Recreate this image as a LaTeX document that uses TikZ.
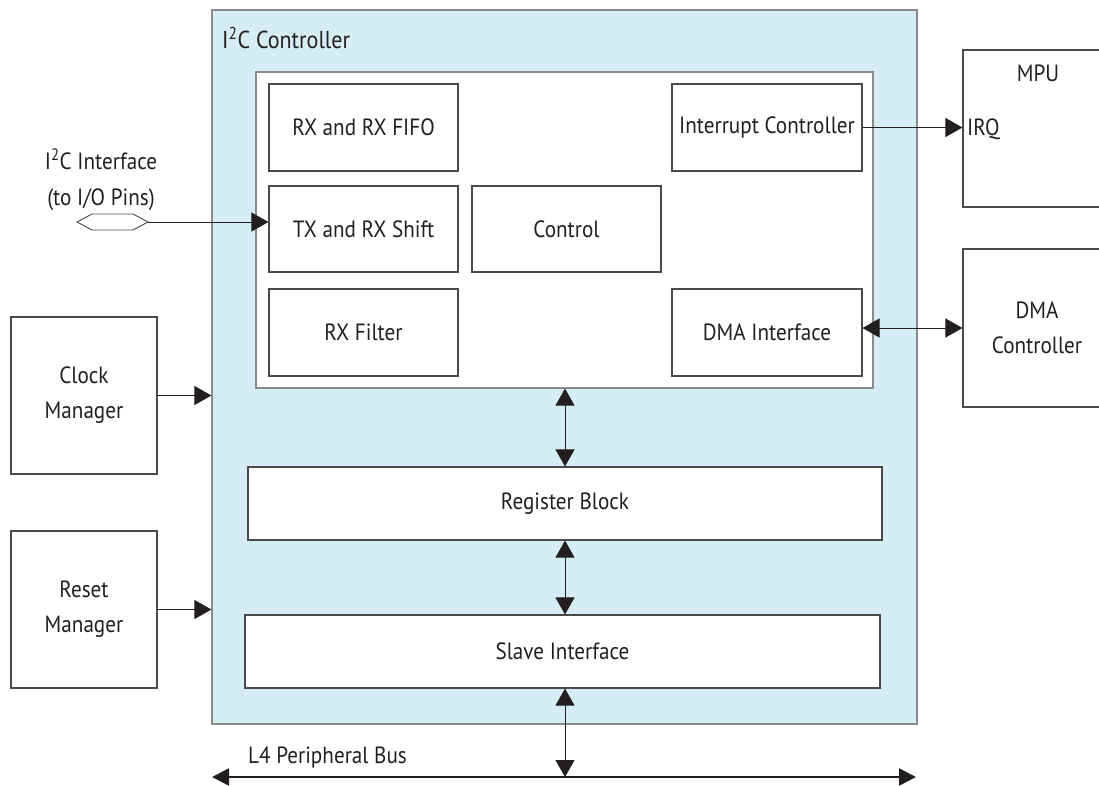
\documentclass[tikz,border=0pt]{standalone}
\usepackage{fontspec}
\setmainfont[FakeStretch=0.9]{PT Sans}
\usetikzlibrary{arrows.meta}
\definecolor{ctrlfill}{HTML}{D6EDF5}
\definecolor{ctrlline}{HTML}{8A8A8A}
\definecolor{boxline}{HTML}{4A4A4A}
\definecolor{arrcol}{HTML}{231F20}
\tikzset{
  box/.style={draw=boxline, line width=1.1pt, fill=white, inner sep=2pt, align=center,
    text=arrcol, font=\fontsize{23.5}{35}\selectfont},
  lbl/.style={inner sep=0pt, text=arrcol, font=\fontsize{23.5}{36}\selectfont},
  arr/.style={draw=arrcol, line width=0.9pt, -{Triangle[length=17pt,width=19pt]}},
  darr/.style={draw=arrcol, line width=0.9pt, {Triangle[length=17pt,width=19pt]}-{Triangle[length=17pt,width=19pt]}},
  busarr/.style={draw=arrcol, line width=2.4pt, {Triangle[length=17pt,width=17pt]}-{Triangle[length=17pt,width=17pt]}}
}
\begin{document}
\begin{tikzpicture}[x=1pt,y=-1pt]
\useasboundingbox (0,0) rectangle (1099,785);
% I2C controller
\node[draw=ctrlline, line width=1.2pt, fill=ctrlfill, minimum width=705pt, minimum height=714pt, inner sep=0pt] (ctrl) at (564.5,367) {};
\node[lbl, anchor=west, font=\fontsize{24.5}{26}\selectfont] (title) at (222,38) {I\textsuperscript{2}C Controller};
\node[draw=ctrlline, line width=1.1pt, fill=white, minimum width=617pt, minimum height=316pt, inner sep=0pt] (inner) at (564.5,230) {};
% inner blocks
\node[box, minimum width=189pt, minimum height=87pt] (rxfifo) at (363.5,127.5) {RX and RX FIFO};
\node[box, minimum width=189pt, minimum height=86pt] (txrx) at (363.5,229) {TX and RX Shift};
\node[box, minimum width=189pt, minimum height=87pt] (rxfilt) at (363.5,332.5) {RX Filter};
\node[box, minimum width=189pt, minimum height=86pt] (control) at (566.5,229) {Control};
\node[box, minimum width=190pt, minimum height=87pt] (intc) at (767,127.5) {Interrupt Controller};
\node[box, minimum width=190pt, minimum height=87pt] (dmai) at (767,332.5) {DMA Interface};
\node[box, minimum width=634pt, minimum height=73pt] (reg) at (565,503.5) {Register Block};
\node[box, minimum width=635pt, minimum height=73pt] (slave) at (562.5,651.5) {Slave Interface};
% outside blocks
\node[box, minimum width=146pt, minimum height=157pt] (clock) at (84,395.5) {Clock\\Manager};
\node[box, minimum width=146pt, minimum height=157pt] (reset) at (84,609.5) {Reset\\Manager};
\node[box, minimum width=150pt, minimum height=157pt] (mpu) at (1038,128.5) {};
\node[lbl] (mputxt) at (1038,73) {MPU};
\node[lbl, anchor=west] (irq) at (967,129) {IRQ};
\node[box, minimum width=148pt, minimum height=158pt] (dmac) at (1037,328) {DMA\\Controller};
% I2C interface
\node[lbl, align=center] (i2cif) at (101,180) {I\textsuperscript{2}C Interface\\(to I/O Pins)};
\draw[draw=boxline, line width=0.9pt, fill=white] (77,222) -- (92,214) -- (133,214) -- (148,222) -- (133,230) -- (92,230) -- cycle;
\coordinate (hexR) at (148,222);
\draw[arr] (hexR) -- (hexR -| txrx.west);
% connectors
\draw[arr] (clock.east) -- (clock.east -| ctrl.west);
\draw[arr] (reset.east) -- (reset.east -| ctrl.west);
\draw[arr] (intc.east) -- (intc.east -| mpu.west);
\draw[darr] (dmac.west -| dmai.east) -- (dmac.west);
\draw[darr] (inner.south -| reg.north) -- (reg.north);
\draw[darr] (reg.south) -- (reg.south |- slave.north);
% bus
\coordinate (busL) at (212,777);
\coordinate (busR) at (916,777);
\draw[busarr] (busL) -- (busR);
\draw[darr] (slave.south -| reg.south) -- (reg.south |- busL);
\node[lbl, anchor=west] (bustxt) at (248,757) {L4 Peripheral Bus};
\end{tikzpicture}
\end{document}
